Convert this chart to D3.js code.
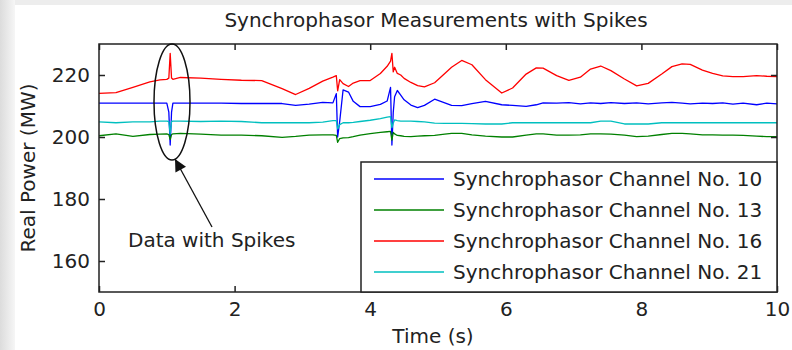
<!DOCTYPE html>
<html>
<head>
<meta charset="utf-8">
<script src="https://cdnjs.cloudflare.com/ajax/libs/d3/7.8.5/d3.min.js"></script>
<style>
  body { margin: 0; background: #fff; }
  svg { display: block; font-family: "DejaVu Sans", sans-serif; }
</style>
</head>
<body>
<svg width="792" height="350"></svg>
<script>
var WIDTH = 792;
var HEIGHT = 350;

// time stamps (s), shared by all channels
var time = [0, 0.25, 0.5, 0.75, 0.9, 1.0, 1.03, 1.05, 1.07, 1.09, 1.2, 1.5, 1.8, 2.1, 2.4, 2.7, 2.9, 3.1, 3.3, 3.45,
    3.5, 3.52, 3.55, 3.6, 3.68, 3.75, 3.85, 4.0, 4.15, 4.25, 4.3, 4.32, 4.34, 4.36, 4.4, 4.45, 4.5, 4.6, 4.7, 4.8,
    4.95, 5.1, 5.2, 5.35, 5.5, 5.7, 5.94, 6.1, 6.3, 6.45, 6.55, 6.75, 6.93, 7.1, 7.25, 7.4, 7.55, 7.75, 7.93, 8.1,
    8.3, 8.45, 8.6, 8.72, 8.9, 9.05, 9.2, 9.35, 9.5, 9.7, 9.85, 10.0];

var ch10 = [210.9, 210.9, 210.9, 210.9, 210.9, 210.9, 208.0, 197.4, 208.0, 210.9, 210.9, 210.9, 210.9, 210.8, 210.8, 210.8, 210.2, 210.6, 211.2, 211.0,
    214.0, 200.0, 205.0, 215.2, 214.5, 211.5, 209.8, 209.8, 210.5, 211.6, 216.0, 197.4, 208.0, 213.0, 215.0, 213.5, 212.0, 210.3, 209.5, 210.2,
    212.2, 211.0, 210.2, 210.1, 210.8, 211.5, 210.4, 210.2, 209.9, 210.4, 211.0, 210.9, 211.1, 210.7, 211.0, 210.8, 211.1, 210.8, 211.0, 210.7,
    211.0, 211.2, 210.9, 210.7, 210.9, 210.8, 211.0, 210.6, 210.9, 210.4, 210.9, 210.7];

var ch13 = [200.4, 201.0, 200.2, 200.8, 200.9, 201.0, 200.8, 199.2, 200.8, 201.0, 201.2, 200.9, 200.6, 200.6, 200.4, 199.9, 200.2, 200.6, 200.7, 200.7,
    200.5, 198.3, 199.5, 199.7, 199.8, 200.1, 200.6, 201.1, 201.5, 201.7, 201.8, 199.0, 201.5, 201.0, 200.5, 200.4, 200.2, 200.1, 200.3, 200.4,
    200.5, 200.9, 201.2, 201.2, 200.7, 200.3, 200.0, 200.0, 200.6, 201.0, 201.0, 200.6, 200.6, 200.7, 201.0, 201.0, 200.9, 200.6, 200.1, 200.3,
    200.8, 201.2, 201.2, 201.0, 200.7, 200.7, 200.6, 200.6, 200.5, 200.3, 200.1, 200.1];

var ch16 = [214.1, 214.3, 216.0, 217.8, 218.4, 218.6, 219.0, 227.0, 219.0, 218.6, 219.2, 219.0, 218.6, 218.3, 218.2, 215.6, 213.7, 215.7, 218.0, 219.3,
    219.8, 214.9, 218.5, 217.2, 216.3, 217.4, 218.2, 218.2, 220.5, 222.8, 224.5, 227.0, 221.0, 222.5, 220.5, 220.0, 218.9, 217.6, 216.6, 216.2,
    217.5, 220.5, 222.5, 224.7, 223.3, 218.5, 214.2, 215.8, 220.3, 222.3, 222.2, 219.8, 218.3, 219.3, 221.9, 222.9, 221.4, 218.7, 216.5, 217.3,
    220.3, 222.7, 223.6, 223.4, 221.6, 220.5, 219.7, 219.5, 219.5, 219.8, 219.6, 219.5];

var ch21 = [204.9, 204.6, 204.9, 204.9, 205.1, 205.1, 205.0, 201.0, 205.0, 205.1, 205.1, 205.0, 205.1, 205.0, 204.6, 204.6, 204.6, 204.6, 204.8, 205.3,
    205.3, 202.6, 204.0, 204.6, 204.6, 204.7, 205.0, 205.4, 205.9, 206.4, 206.6, 203.0, 204.5, 205.5, 205.3, 205.1, 205.1, 205.1, 205.0, 204.9,
    204.5, 204.4, 204.4, 204.4, 204.3, 204.2, 204.2, 204.6, 204.6, 204.6, 204.6, 204.6, 204.6, 204.6, 204.6, 205.1, 205.1, 204.2, 204.2, 204.2,
    204.6, 204.6, 204.6, 204.6, 204.6, 204.6, 204.6, 204.6, 204.6, 204.6, 204.6, 204.6];

var seriesNames = ["Synchrophasor Channel No. 10", "Synchrophasor Channel No. 13",
    "Synchrophasor Channel No. 16", "Synchrophasor Channel No. 21"];
var seriesValues = [ch10, ch13, ch16, ch21];
var seriesColors = ["#0000ff", "#008000", "#ff0000", "#00bfbf"];

var xTicks = [0, 2, 4, 6, 8, 10];
var yTicks = [160, 180, 200, 220];

// plot box (note: "top" is reserved on window, so use other names)
var plotL = 99, plotR = 777, plotT = 44, plotB = 292;

var svg = d3.select("svg")
    .attr("width", WIDTH)
    .attr("height", HEIGHT);

// window-ish grey frame on the top and left
var grad = svg.append("defs").append("linearGradient").attr("id", "fade");
grad.append("stop").attr("offset", "0%").attr("stop-color", "#dcdcdc");
grad.append("stop").attr("offset", "100%").attr("stop-color", "#f6f6f6");
svg.append("rect").attr("width", WIDTH).attr("height", HEIGHT).attr("fill", "#ededed");
svg.append("rect").attr("width", 15).attr("height", HEIGHT).attr("fill", "url(#fade)");
svg.append("rect").attr("x", 15).attr("y", 5).attr("width", WIDTH - 15).attr("height", HEIGHT - 5).attr("fill", "#fff");

var x = d3.scaleLinear().domain([0, 10]).range([plotL, plotR]);
var y = d3.scaleLinear().domain([150, 230]).range([plotB, plotT]);

// lines
var line = d3.line()
    .x(function(d) { return x(d[0]); })
    .y(function(d) { return y(d[1]); });

svg.append("g").selectAll("path")
    .data(seriesValues)
    .enter()
    .append("path")
    .attr("fill", "none")
    .attr("stroke", function(d, i) { return seriesColors[i]; })
    .attr("stroke-width", 1.3)
    .attr("stroke-linejoin", "round")
    .attr("d", function(vals) { return line(d3.zip(time, vals)); });

// axes
svg.append("g")
    .attr("transform", "translate(0," + plotB + ")")
    .call(d3.axisBottom(x).tickValues(xTicks).tickSizeInner(-6).tickSizeOuter(0).tickPadding(10));
svg.append("g")
    .attr("transform", "translate(0," + plotT + ")")
    .call(d3.axisTop(x).tickValues(xTicks).tickSizeInner(-6).tickSizeOuter(0).tickFormat(""));
svg.append("g")
    .attr("transform", "translate(" + plotL + ",0)")
    .call(d3.axisLeft(y).tickValues(yTicks).tickSizeInner(-6).tickSizeOuter(0).tickPadding(9));
svg.append("g")
    .attr("transform", "translate(" + plotR + ",0)")
    .call(d3.axisRight(y).tickValues(yTicks).tickSizeInner(-6).tickSizeOuter(0).tickFormat(""));

svg.selectAll(".domain").remove();
svg.selectAll(".tick line").attr("stroke", "#222").attr("stroke-width", 1.5);
svg.selectAll(".tick text").attr("font-size", 20).attr("font-family", "DejaVu Sans").attr("fill", "#222");

svg.append("rect")
    .attr("x", plotL).attr("y", plotT)
    .attr("width", plotR - plotL).attr("height", plotB - plotT)
    .attr("fill", "none").attr("stroke", "#222").attr("stroke-width", 1.5);

// titles
svg.append("text")
    .attr("x", 436).attr("y", 27)
    .attr("text-anchor", "middle")
    .attr("font-size", 20).attr("fill", "#222")
    .text("Synchrophasor Measurements with Spikes");
svg.append("text")
    .attr("x", 433).attr("y", 343)
    .attr("text-anchor", "middle")
    .attr("font-size", 20).attr("fill", "#222")
    .text("Time (s)");
svg.append("text")
    .attr("transform", "translate(35," + ((plotT + plotB) / 2) + ") rotate(-90)")
    .attr("text-anchor", "middle")
    .attr("font-size", 20).attr("fill", "#222")
    .text("Real Power (MW)");

// annotation
svg.append("ellipse")
    .attr("cx", 172).attr("cy", 102).attr("rx", 18).attr("ry", 58)
    .attr("fill", "none").attr("stroke", "#111").attr("stroke-width", 1.5);

svg.append("defs").append("marker")
    .attr("id", "head")
    .attr("viewBox", "0 0 10 10")
    .attr("refX", 10).attr("refY", 5)
    .attr("markerWidth", 14).attr("markerHeight", 12)
    .attr("markerUnits", "userSpaceOnUse")
    .attr("orient", "auto")
    .append("path").attr("d", "M0,0L10,5L0,10Z").attr("fill", "#111");

svg.append("line")
    .attr("x1", 212).attr("y1", 227).attr("x2", 175).attr("y2", 159)
    .attr("stroke", "#111").attr("stroke-width", 1.3)
    .attr("marker-end", "url(#head)");

svg.append("text")
    .attr("x", 128).attr("y", 247)
    .attr("font-size", 20).attr("fill", "#222")
    .text("Data with Spikes");

// legend
var legend = svg.append("g");
legend.append("rect")
    .attr("x", 361).attr("y", 162)
    .attr("width", plotR - 361).attr("height", plotB - 162)
    .attr("fill", "#fff").attr("stroke", "#222").attr("stroke-width", 1.5);

var items = legend.selectAll("g.item")
    .data(seriesNames)
    .enter()
    .append("g")
    .attr("class", "item")
    .attr("transform", function(d, i) { return "translate(0," + (179 + i * 31) + ")"; });

items.append("line")
    .attr("x1", 374).attr("x2", 444)
    .attr("stroke", function(d, i) { return seriesColors[i]; })
    .attr("stroke-width", 1.3);

items.append("text")
    .attr("x", 453).attr("y", 7)
    .attr("font-size", 20).attr("fill", "#222")
    .text(function(d) { return d; });
</script>
</body>
</html>
